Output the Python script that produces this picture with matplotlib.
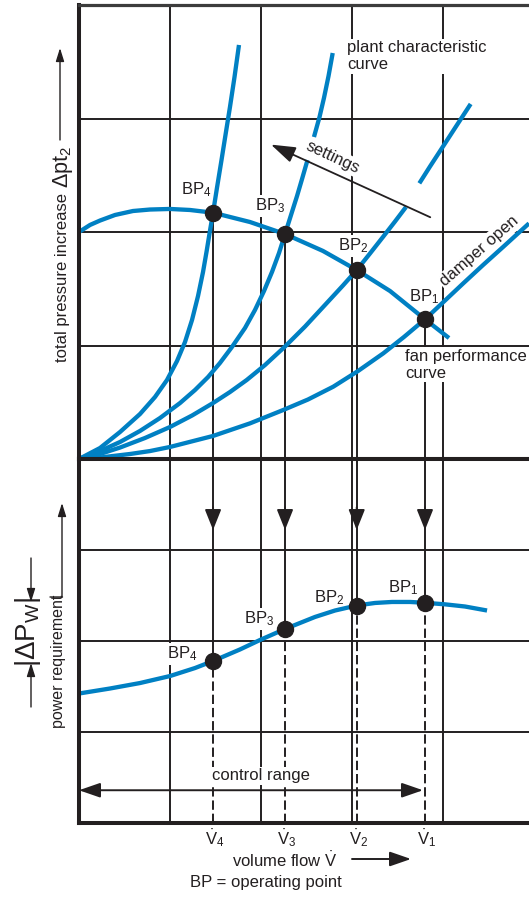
import matplotlib.pyplot as plt

plt.rcParams['font.family'] = ['Liberation Sans', 'DejaVu Sans']
plt.rcParams['mathtext.fontset'] = 'custom'
plt.rcParams['mathtext.rm'] = 'Liberation Sans'
plt.rcParams['mathtext.it'] = 'Liberation Sans:italic'
plt.rcParams['mathtext.bf'] = 'Liberation Sans:bold'

INK = '#231f20'
BLUE = '#0080c3'
W, H = 529, 900

# ---- data, in grid units (one grid cell = 1) ----
# plant characteristic curves (damper settings), pressure panel
plant1_x = [0, 0.231, 0.451, 0.670, 0.835, 0.967, 1.077, 1.165, 1.242, 1.308, 1.363,
            1.403, 1.437, 1.473, 1.516, 1.566, 1.615, 1.659, 1.709, 1.758]
plant1_y = [0, 0.097, 0.238, 0.396, 0.546, 0.696, 0.863, 1.031, 1.225, 1.436, 1.648,
            1.833, 2.000, 2.170, 2.388, 2.634, 2.881, 3.101, 3.366, 3.648]

plant2_lo_x = [0, 0.231, 0.451, 0.670, 0.890, 1.110, 1.275, 1.418, 1.549, 1.681, 1.824,
               1.934, 2.033, 2.121, 2.198, 2.264, 2.330, 2.396, 2.451, 2.511]
plant2_lo_y = [0, 0.070, 0.150, 0.247, 0.361, 0.493, 0.608, 0.722, 0.846, 0.987, 1.154,
               1.313, 1.480, 1.648, 1.815, 1.982, 2.150, 2.317, 2.467, 2.634]
plant2_hi_x = [2.582, 2.643, 2.692, 2.742, 2.788]
plant2_hi_y = [2.837, 3.013, 3.181, 3.374, 3.577]

plant3_lo_x = [0, 0.231, 0.451, 0.725, 1.000, 1.242, 1.473, 1.659, 1.843, 2.044, 2.264,
               2.484, 2.703, 2.901, 3.052, 3.198, 3.344, 3.473, 3.593]
plant3_lo_y = [0, 0.044, 0.101, 0.185, 0.282, 0.383, 0.493, 0.590, 0.696, 0.828, 0.991,
               1.167, 1.357, 1.529, 1.665, 1.811, 1.960, 2.093, 2.220]
plant3_hi_x = [3.740, 3.857, 3.986, 4.143, 4.304]
plant3_hi_y = [2.429, 2.577, 2.736, 2.930, 3.128]

plant4_x = [0, 0.231, 0.560, 0.780, 1.000, 1.473, 1.879, 2.245, 2.516, 2.794, 3.066,
            3.344, 3.571, 3.802, 4.011, 4.223, 4.440, 4.663, 4.945]
plant4_y = [0, 0.013, 0.044, 0.070, 0.106, 0.203, 0.314, 0.432, 0.524, 0.637, 0.775,
            0.931, 1.075, 1.231, 1.388, 1.548, 1.709, 1.870, 2.076]

# fan performance curve
fan_x = [0, 0.121, 0.231, 0.396, 0.593, 0.780, 1.000, 1.220, 1.473, 1.879, 2.264,
         2.681, 3.052, 3.418, 3.802, 4.066]
fan_y = [2.000, 2.062, 2.101, 2.150, 2.185, 2.198, 2.203, 2.194, 2.170, 2.088, 1.982,
         1.833, 1.665, 1.480, 1.231, 1.066]

# power requirement curve
power_x = [0, 0.341, 0.670, 1.000, 1.275, 1.473, 1.769, 1.989, 2.264, 2.593, 2.813,
           3.052, 3.253, 3.440, 3.637, 3.802, 4.022, 4.242, 4.484]
power_y = [1.423, 1.478, 1.538, 1.615, 1.703, 1.780, 1.907, 2.011, 2.132, 2.264, 2.335,
           2.390, 2.418, 2.429, 2.429, 2.420, 2.403, 2.379, 2.335]

# operating points BP1..BP4
bp_names = ['1', '2', '3', '4']
bp_x = [3.802, 3.052, 2.264, 1.473]
bp_pressure = [1.231, 1.665, 1.982, 2.170]
bp_power = [2.420, 2.390, 2.132, 1.780]

grid_x = [1, 2, 3, 4]
grid_y = [1, 2, 3]

# label offsets (pixels) of the BP labels from their points
bp_off_p = [(-1, 23), (-4, 24), (-15, 28), (-17, 23)]
bp_off_w = [(-22, 15), (-28, 8), (-26, 10), (-31, 7)]

settings_tail = (3.86, 2.13)
settings_tip = (2.11, 2.77)
control_range = (0.0, 3.78)
control_y = 0.36
arrow_tip_y = 3.22

fig = plt.figure(figsize=(W / 100, H / 100), dpi=100)
ax_p = fig.add_axes([79 / W, 1 - 459 / H, 450 / W, 454 / H])
ax_w = fig.add_axes([79 / W, 1 - 823 / H, 450 / W, 364 / H])

for ax in (ax_p, ax_w):
    ax.set_xlim(0, 450 / 91)
    ax.set_ylim(0, 4)
    ax.set_xticks([])
    ax.set_yticks([])
    ax.spines['right'].set_visible(False)
    for s in ('left', 'bottom', 'top'):
        ax.spines[s].set_color(INK)
        ax.spines[s].set_linewidth(2.9)
        ax.spines[s].set_zorder(8)
    for gx in grid_x:
        ax.axvline(gx, color=INK, lw=1.4, zorder=1)
    for gy in grid_y:
        ax.axhline(gy, color=INK, lw=1.4, zorder=1)
ax_p.spines['top'].set_linewidth(2.3)
ax_p.spines['top'].set_color('#3c3c3c')

box = dict(boxstyle='square,pad=0.1', fc='white', ec='none')
txt = dict(color=INK, zorder=2.5)

# ---- pressure panel ----
curve_kw = dict(color=BLUE, lw=3.1, solid_capstyle='butt', solid_joinstyle='round', zorder=3)
ax_p.plot(plant1_x, plant1_y, **curve_kw)
ax_p.plot(plant2_lo_x, plant2_lo_y, **curve_kw)
ax_p.plot(plant2_hi_x, plant2_hi_y, **curve_kw)
ax_p.plot(plant3_lo_x, plant3_lo_y, **curve_kw)
ax_p.plot(plant3_hi_x, plant3_hi_y, **curve_kw)
ax_p.plot(plant4_x, plant4_y, **curve_kw)
ax_p.plot(fan_x, fan_y, **curve_kw)

ax_p.vlines(bp_x, 0, bp_pressure, color=INK, lw=1.4, zorder=2)
ax_p.plot(bp_x, bp_pressure, 'o', ms=11.5, color=INK, zorder=6)
for name, x, y, off in zip(bp_names, bp_x, bp_pressure, bp_off_p):
    ax_p.annotate(r'$\mathrm{BP}_%s$' % name, xy=(x, y), xytext=off, textcoords='offset pixels',
                  ha='center', va='center', fontsize=12, bbox=box, **txt)

ax_p.annotate('', xy=settings_tip, xytext=settings_tail,
              arrowprops=dict(arrowstyle='-|>,head_length=1.5,head_width=0.5', color=INK, lw=1.3,
                              shrinkA=0, shrinkB=0), zorder=4)
ax_p.text(2.79, 2.66, 'settings', rotation=-25, ha='center', va='center', fontsize=12,
          rotation_mode='anchor', bbox=box, **txt)
ax_p.text(2.95, 3.55, 'plant characteristic\ncurve', ha='left', va='center', fontsize=12,
          linespacing=1.15, bbox=box, **txt)
ax_p.text(4.40, 1.83, 'damper open', rotation=41, ha='center', va='center', fontsize=12,
          rotation_mode='anchor', bbox=box, **txt)
ax_p.text(3.58, 0.83, 'fan performance\ncurve', ha='left', va='center', fontsize=12,
          linespacing=1.15, bbox=box, **txt)

# ---- power panel ----
ax_w.plot(power_x, power_y, **curve_kw)
ax_w.vlines(bp_x, bp_power, 4, color=INK, lw=1.4, zorder=2)
ax_w.vlines(bp_x, 0, bp_power, color=INK, lw=1.4, linestyles=(0, (4.8, 2.0)), zorder=2)
ax_w.plot(bp_x, bp_power, 'o', ms=11.5, color=INK, zorder=6)
for name, x, y, off in zip(bp_names, bp_x, bp_power, bp_off_w):
    ax_w.annotate(r'$\mathrm{BP}_%s$' % name, xy=(x, y), xytext=off, textcoords='offset pixels',
                  ha='center', va='center', fontsize=12, bbox=box, **txt)
    ax_w.annotate('', xy=(x, arrow_tip_y), xytext=(x, arrow_tip_y + 0.25),
                  arrowprops=dict(arrowstyle='-|>,head_length=1.25,head_width=0.5', color=INK,
                                  lw=1.4, shrinkA=0, shrinkB=0), zorder=4)
    ax_w.annotate(r'$\dot{\mathrm{V}}_%s$' % name, xy=(x, 0), xytext=(2, -15),
                  textcoords='offset pixels', ha='center', va='center', fontsize=12,
                  annotation_clip=False, **txt)

ax_w.annotate('', xy=(control_range[0], control_y), xytext=(control_range[1], control_y),
              arrowprops=dict(arrowstyle='<|-|>,head_length=1.3,head_width=0.45', color=INK, lw=1.4,
                              shrinkA=0, shrinkB=0), zorder=4)
ax_w.text(2.0, 0.52, 'control range', ha='center', va='center', fontsize=12, bbox=box, **txt)

# ---- labels outside the axes (figure pixels, origin bottom left) ----
fp = dict(xycoords='figure pixels', color=INK)
small_arrow = dict(arrowstyle='-|>,head_length=0.8,head_width=0.25', color=INK, lw=1.0,
                   shrinkA=0, shrinkB=0)
ax_p.annotate('total pressure increase', xy=(67, H - 362), rotation=90, rotation_mode='anchor',
              ha='left', va='baseline', fontsize=12, **fp)
ax_p.annotate(r'$\Delta\mathrm{pt}_2$', xy=(68, H - 188), rotation=90, rotation_mode='anchor',
              ha='left', va='baseline', fontsize=15.5, **fp)
ax_p.annotate('', xy=(60, H - 48), xytext=(60, H - 140), xycoords='figure pixels',
              arrowprops=small_arrow)

ax_w.annotate('power requirement', xy=(63, H - 728), rotation=90, rotation_mode='anchor',
              ha='left', va='baseline', fontsize=11.5, **fp)
ax_w.annotate('', xy=(62, H - 503), xytext=(62, H - 597), xycoords='figure pixels',
              arrowprops=small_arrow)
ax_w.annotate('', xy=(50, H - 597), xytext=(62.5, H - 597), xycoords='figure pixels',
              arrowprops=dict(arrowstyle='-', color=INK, lw=1.0, shrinkA=0, shrinkB=0))
ax_w.annotate(r'$|\Delta\mathrm{P}_\mathrm{W}|$', xy=(28, H - 632), rotation=90, ha='center',
              va='center', fontsize=20, **fp)
ax_w.annotate('', xy=(31, H - 602), xytext=(31, H - 558), xycoords='figure pixels',
              arrowprops=small_arrow)
ax_w.annotate('', xy=(31, H - 663), xytext=(31, H - 707), xycoords='figure pixels',
              arrowprops=small_arrow)

ax_w.annotate(r'volume flow $\dot{\mathrm{V}}$', xy=(285, H - 860), ha='center', va='center',
              fontsize=12, **fp)
ax_w.annotate('', xy=(411, H - 859), xytext=(352, H - 859), xycoords='figure pixels',
              arrowprops=dict(arrowstyle='-|>,head_length=1.3,head_width=0.45', color=INK, lw=1.4,
                              shrinkA=0, shrinkB=0))
ax_w.annotate('BP = operating point', xy=(266, H - 883), ha='center', va='center', fontsize=12, **fp)

fig.savefig('out.png', dpi=100)
